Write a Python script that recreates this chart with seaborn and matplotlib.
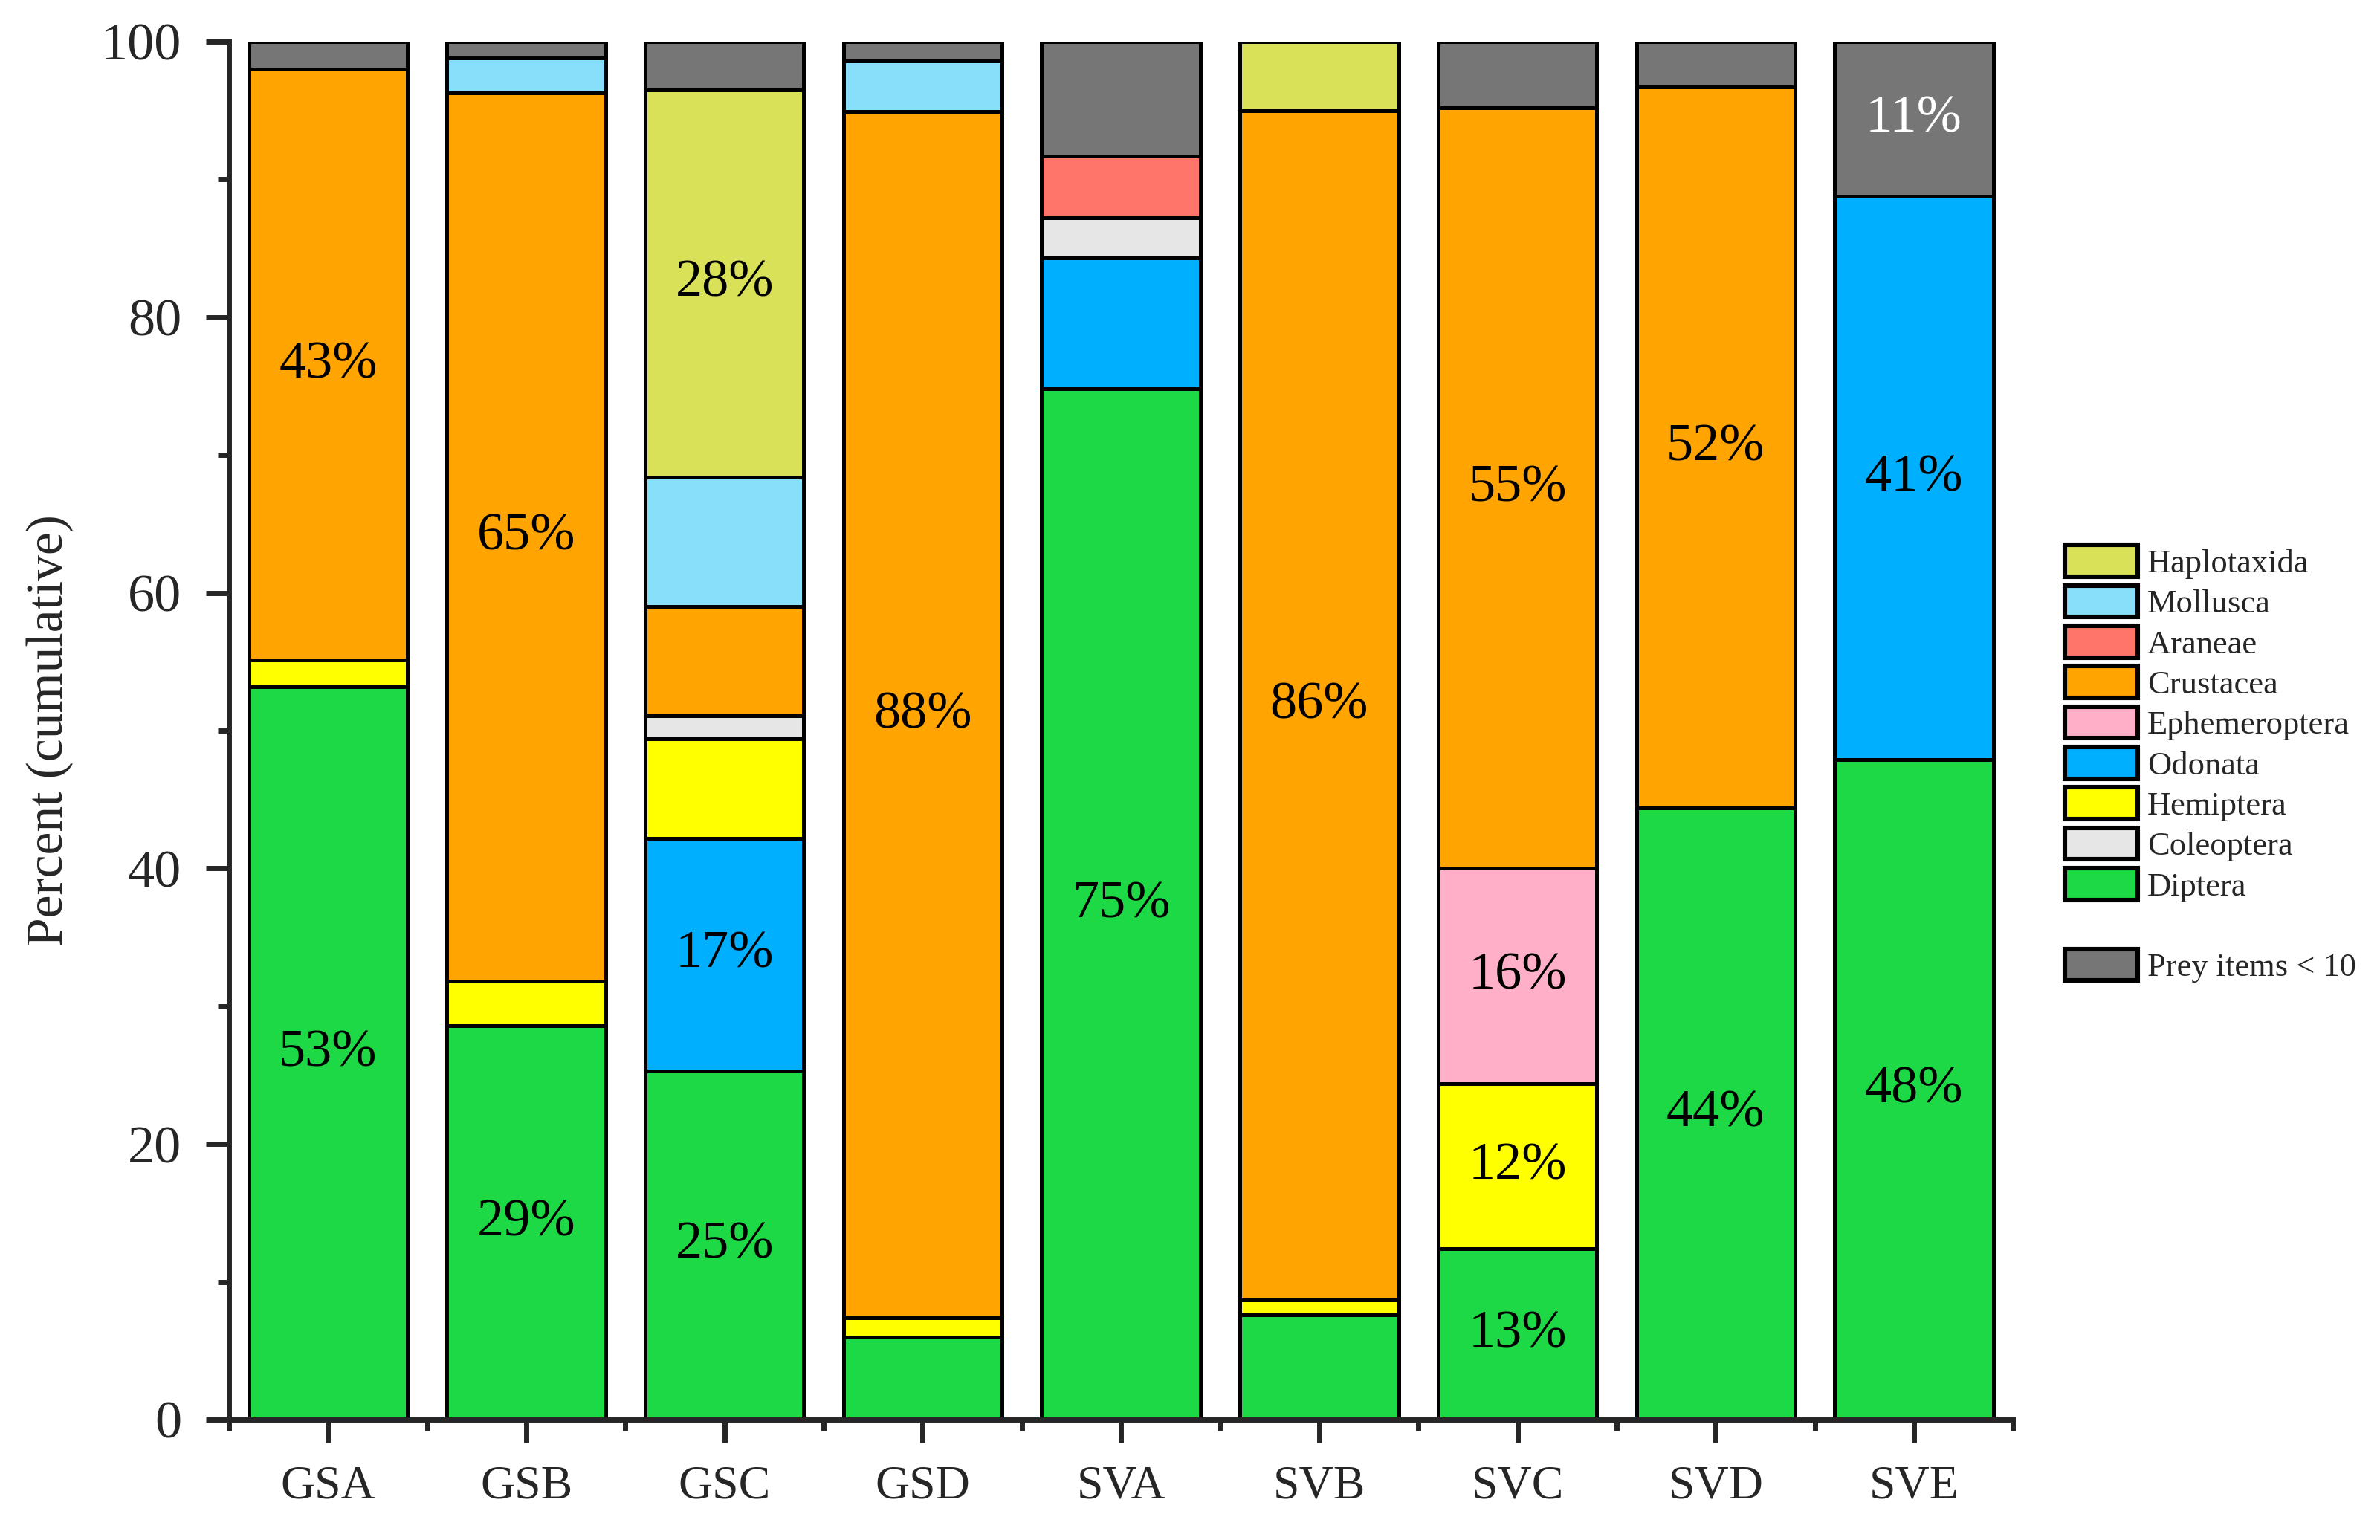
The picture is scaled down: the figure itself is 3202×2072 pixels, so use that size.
import numpy as np
import matplotlib
matplotlib.use("Agg")
import matplotlib.pyplot as plt
from matplotlib.patches import Patch
from matplotlib.ticker import MultipleLocator, FixedLocator
import seaborn as sns

sites = ["GSA", "GSB", "GSC", "GSD", "SVA", "SVB", "SVC", "SVD", "SVE"]

# segment heights in percent
diptera = [53.2, 28.6, 25.3, 6.0, 74.8, 7.6, 12.4, 44.4, 47.9]
odonata = [0, 0, 16.9, 0, 9.5, 0, 0, 0, 40.9]
hemiptera = [1.9, 3.2, 7.2, 1.4, 0, 1.1, 12.0, 0, 0]
coleoptera = [0, 0, 1.7, 0, 2.9, 0, 0, 0, 0]
ephemeroptera = [0, 0, 0, 0, 0, 0, 15.6, 0, 0]
crustacea = [42.9, 64.5, 7.9, 87.5, 0, 86.3, 55.2, 52.3, 0]
araneae = [0, 0, 0, 0, 4.5, 0, 0, 0, 0]
mollusca = [0, 2.5, 9.4, 3.7, 0, 0, 0, 0, 0]
haplotaxida = [0, 0, 28.1, 0, 0, 5.0, 0, 0, 0]
prey_lt10 = [2.0, 1.2, 3.5, 1.4, 8.3, 0, 4.8, 3.3, 11.2]

# percent labels written inside the bars
label_sites = ["GSA", "GSA", "GSB", "GSB", "GSC", "GSC", "GSC", "GSD", "SVA",
               "SVB", "SVC", "SVC", "SVC", "SVC", "SVD", "SVD", "SVE", "SVE", "SVE"]
label_taxa = ["Crustacea", "Diptera", "Crustacea", "Diptera", "Haplotaxida", "Odonata",
              "Diptera", "Crustacea", "Diptera", "Crustacea", "Crustacea", "Ephemeroptera",
              "Hemiptera", "Diptera", "Crustacea", "Diptera", "Prey items < 10",
              "Odonata", "Diptera"]
label_texts = ["43%", "53%", "65%", "29%", "28%", "17%", "25%", "88%", "75%",
               "86%", "55%", "16%", "12%", "13%", "52%", "44%", "11%", "41%", "48%"]

# stacking order, bottom to top
stack = [
    ("Diptera", diptera, "#1dd945"),
    ("Odonata", odonata, "#00b0ff"),
    ("Hemiptera", hemiptera, "#ffff00"),
    ("Coleoptera", coleoptera, "#e6e6e6"),
    ("Ephemeroptera", ephemeroptera, "#ffb0c8"),
    ("Crustacea", crustacea, "#ffa400"),
    ("Araneae", araneae, "#ff7569"),
    ("Mollusca", mollusca, "#88dff9"),
    ("Haplotaxida", haplotaxida, "#d9e159"),
    ("Prey items < 10", prey_lt10, "#767676"),
]
legend_order = ["Haplotaxida", "Mollusca", "Araneae", "Crustacea", "Ephemeroptera",
                "Odonata", "Hemiptera", "Coleoptera", "Diptera"]

sns.set_style("ticks")
plt.rcParams["font.family"] = ["Liberation Serif", "DejaVu Serif"]

fig = plt.figure(figsize=(16.01, 10.36), dpi=200)
ax = fig.add_axes([0.0962, 0.0782, 0.7496, 0.8948])

heights = np.array([s[1] for s in stack], dtype=float)
tops = np.cumsum(heights, axis=0)
bottoms = tops - heights
colors = {name: c for name, _, c in stack}

# overlay cumulative bars, tallest first
for i in range(len(stack) - 1, -1, -1):
    sns.barplot(x=sites, y=tops[i], order=sites, color=stack[i][2], saturation=1,
                edgecolor="black", linewidth=1.8, width=0.8, errorbar=None, ax=ax)

names = [s[0] for s in stack]
for site, taxon, txt in zip(label_sites, label_taxa, label_texts):
    xi = sites.index(site)
    ti = names.index(taxon)
    yc = bottoms[ti, xi] + heights[ti, xi] / 2
    col = "white" if taxon == "Prey items < 10" else "black"
    ax.text(xi, yc, txt, ha="center", va="center", fontsize=26, color=col)

ax.set_xlim(-0.5, 8.5)
ax.set_ylim(0, 100)
ax.set_xlabel("")
ax.set_ylabel("Percent (cumulative)", fontsize=25)
ax.yaxis.set_label_coords(-0.087, 0.5)
sns.despine(ax=ax)
for sp in ["left", "bottom"]:
    ax.spines[sp].set_linewidth(2.5)

ax.yaxis.set_major_locator(MultipleLocator(20))
ax.yaxis.set_minor_locator(MultipleLocator(10))
ax.xaxis.set_minor_locator(FixedLocator(np.arange(-0.5, 9, 1)))
ax.tick_params(axis="both", which="major", direction="out", length=11, width=2.5)
ax.tick_params(axis="both", which="minor", direction="out", length=5.5, width=2.5)
ax.tick_params(axis="y", which="major", labelsize=26, pad=12)
ax.tick_params(axis="x", which="major", labelsize=23, pad=11)

handles = [Patch(facecolor=colors[n], edgecolor="black", linewidth=2.2) for n in legend_order]
labels = list(legend_order)
handles.append(Patch(facecolor="none", edgecolor="none"))
labels.append(" ")
handles.append(Patch(facecolor=colors["Prey items < 10"], edgecolor="black", linewidth=2.2))
labels.append("Prey items < 10")
fig.legend(handles, labels, loc="upper left", bbox_to_anchor=(0.8675, 0.646),
           frameon=False, fontsize=16, handlelength=2.2, handleheight=1.1,
           handletextpad=0.3, labelspacing=0.2, borderpad=0, borderaxespad=0)

fig.savefig("out.png", dpi=200)
